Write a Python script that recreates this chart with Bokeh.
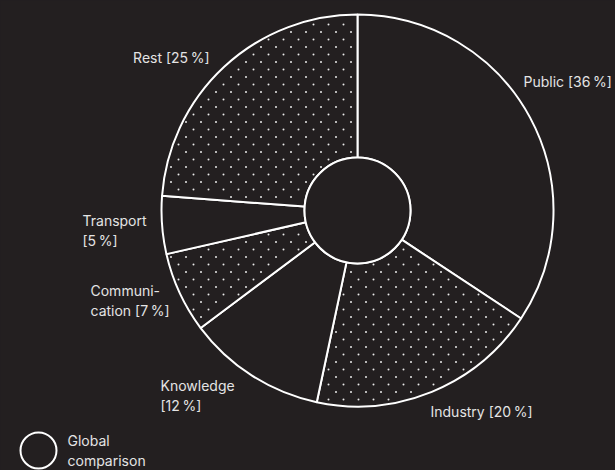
import math
from bokeh.plotting import figure
from bokeh.models import Range1d
from bokeh.core.properties import value
from bokeh.embed import file_html
from bokeh.resources import INLINE

# ---- data ----
label_names = ["Public", "Industry", "Knowledge\n", "Communi-\ncation", "Transport\n", "Rest"]
shares = [36, 20, 12, 7, 5, 25]
dotted = [False, True, False, True, False, True]
legend_label = "Global\ncomparison"

# ---- style / layout ----
BG = "#231f20"
FG = "#ffffff"
TXT = "#e4e4e4"
FONT = value("Inter")
FS = "14px"
R_OUT = 196
R_IN = 53
W, H = 615, 470
CX, CY = 357, 210  # ring centre in page pixels

p = figure(width=W, height=H, output_backend="svg", toolbar_location=None,
           x_range=Range1d(-CX, W - CX), y_range=Range1d(CY - H, CY),
           background_fill_color=BG, border_fill_color=BG, outline_line_color=None,
           min_border=0)
p.axis.visible = False
p.grid.visible = False

total = sum(shares)
bounds = [0.0]
for s in shares:
    bounds.append(bounds[-1] + s / total)
starts = [math.pi / 2 - 2 * math.pi * b for b in bounds[1:]]
ends = [math.pi / 2 - 2 * math.pi * b for b in bounds[:-1]]

# ring segments
p.annular_wedge(x=0, y=0, inner_radius=R_IN, outer_radius=R_OUT,
                start_angle=starts, end_angle=ends,
                fill_color=BG, line_color=FG, line_width=2)

# dotted fill texture (staggered dot grid clipped to the dotted segments)
STEP = 7.5
MARGIN = 3.0
GX, GY = -44, 81  # grid phase
tx, ty = [], []
n = int((R_OUT + 150) / STEP) + 2
for i in range(-n, n + 1):
    for j in range(-n, n + 1):
        if (i + j) % 2:
            continue
        x = GX + STEP * i
        y = GY + STEP * j
        r = math.hypot(x, y)
        if r < R_IN + MARGIN or r > R_OUT - MARGIN:
            continue
        frac = (math.atan2(x, y) % (2 * math.pi)) / (2 * math.pi)
        for k, d in enumerate(dotted):
            if d and bounds[k] <= frac < bounds[k + 1]:
                da = min(frac - bounds[k], bounds[k + 1] - frac) * 2 * math.pi
                if r * math.sin(min(da, math.pi / 2)) > MARGIN:
                    tx.append(x)
                    ty.append(y)
                break
p.scatter(x=tx, y=ty, size=2.0, marker="circle", fill_color=FG,
          fill_alpha=0.9, line_color=None)

p.circle(x=0, y=0, radius=R_IN, fill_color=BG, line_color=FG, line_width=2)

# ---- labels ----
texts = [f"{n} [{v}\u2009%]".replace("\n [", "\n[") for n, v in zip(label_names, shares)]
# label anchors relative to the ring centre (pixels, y up)
lab_x = [166, 73, -197, -267, -275, -148]
lab_y = [129, -201, -185, -90, -20, 153]
lab_align = ["left", "left", "left", "left", "left", "right"]
p.text(x=lab_x, y=lab_y, text=texts, text_align=lab_align,
       text_baseline="middle", text_color=TXT, text_font=FONT,
       text_font_size=FS, text_line_height=1.15)

# ---- legend ----
p.circle(x=[-319], y=[-240], radius=18, fill_color=BG, line_color=FG, line_width=2)
p.text(x=[-290], y=[-240], text=[legend_label], text_align="left",
       text_baseline="middle", text_color=TXT, text_font=FONT,
       text_font_size=FS, text_line_height=1.15)

html = file_html(p, INLINE)
html = html.replace("</head>",
                    f"<style>html,body{{background:{BG};margin:0;padding:0;overflow:hidden;}}</style></head>")
open("out.html", "w").write(html)
